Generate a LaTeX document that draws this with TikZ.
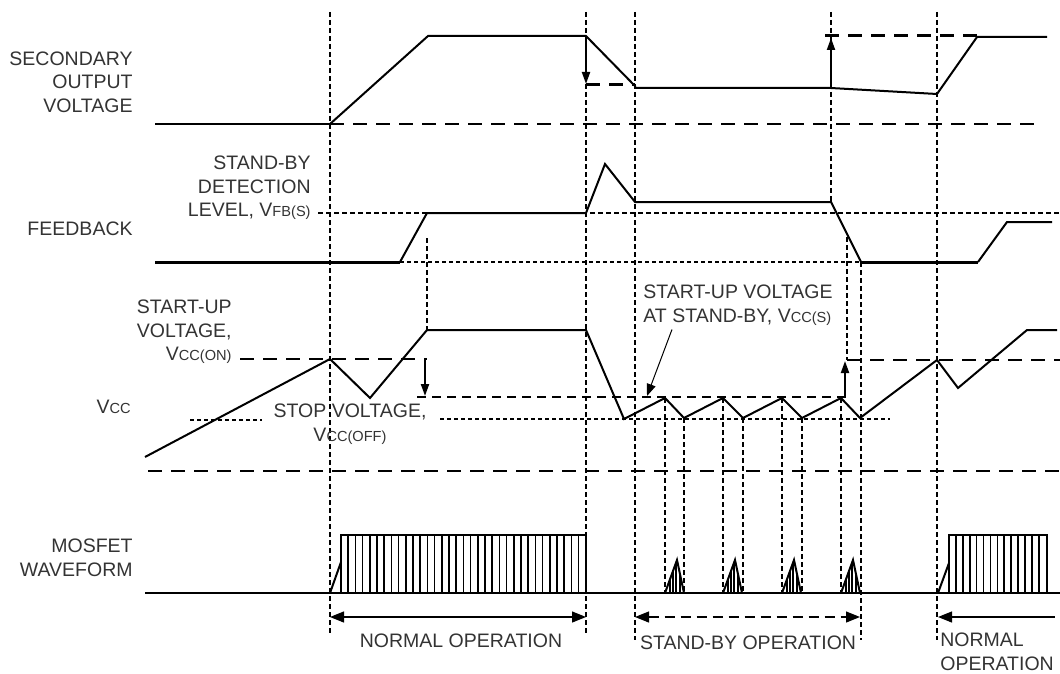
\documentclass[tikz,border=0pt]{standalone}
\usepackage{fontspec}
\setmainfont{Liberation Sans}
\usetikzlibrary{arrows.meta}
\newcommand\vsub[1]{{\fontsize{7.3}{8}\selectfont #1}}
\begin{document}
\begin{tikzpicture}[
  x=0.5pt, y=-0.5pt,
  wave/.style={line width=1pt, line join=miter},
  base/.style={line width=1.5pt},
  guide/.style={line width=0.55pt, dash pattern=on 2.5pt off 1.5pt},
  longdash/.style={line width=1pt, dash pattern=on 7pt off 4.5pt},
  thickdash/.style={line width=1.5pt, dash pattern=on 7pt off 4.5pt},
  middash/.style={line width=0.9pt, dash pattern=on 4.5pt off 3pt},
  shortdash/.style={line width=0.8pt, dash pattern=on 2pt off 1.5pt},
  jump/.style={line width=1pt, -{Triangle[length=6pt,width=4pt]}},
  pointer/.style={line width=0.5pt, -{Triangle[length=6pt,width=4.5pt]}},
  opspan/.style={line width=0.6pt, {Triangle[length=7pt,width=5.5pt]}-{Triangle[length=7pt,width=5.5pt]}},
  hatch/.style={line width=0.8pt},
  txt/.style={font=\fontsize{9.75}{11.75}\selectfont, inner sep=0pt, text=black!80}
]
\useasboundingbox (0,0) rectangle (1060,674);

\draw[guide] (330,12) -- (330,635);
\draw[guide] (427,238) -- (427,330);
\draw[guide] (586,12) -- (586,635);
\draw[guide] (635,12) -- (635,640);
\draw[guide] (831,12) -- (831,203);
\draw[guide] (847,237) -- (847,360);
\draw[guide] (861,262) -- (861,640);
\draw[guide] (937,12) -- (937,640);
\foreach \x/\y in {665/398,684/418,723/398,743/418,782/398,802/418,841/398}
  \draw[guide] (\x,\y) -- (\x,593);

\node[txt, align=right, anchor=east] (sec) at (133,82) {SECONDARY\\OUTPUT\\VOLTAGE};
\draw[line width=0.6pt] (155,124) -- (330,124);
\draw[longdash] (330,124) -- (1040,124);
\draw[wave] (330,124) -- (428,36) -- (586,36) -- (635,86) -- (635,88) -- (831,88)
  -- (937,94) -- (977,37) -- (1047,37);
\draw[jump] (586,36) -- (586,84);
\draw[thickdash] (586,85) -- (635,85);
\draw[jump] (831,88) -- (831,38);
\draw[thickdash] (825,36) -- (980,36);

\node[txt, align=right, anchor=east] (sbl) at (311,188) {STAND-BY\\DETECTION\\LEVEL, V\vsub{FB(S)}};
\node[txt, anchor=east] (fb) at (133,229) {FEEDBACK};
\draw[guide] (318,213) -- (1060,213);
\draw[shortdash] (400,262) -- (861,262);
\draw[wave] (400,262) -- (427,213) -- (586,213) -- (605,164) -- (635,202) -- (831,202)
  -- (861,262);
\draw[wave] (978,262) -- (1007,222) -- (1052,222);
\draw[base] (155,262) -- (400,262);
\draw[base] (861,262) -- (978,262);

\node[txt, align=right, anchor=east] (sul) at (232,332) {START-UP\\VOLTAGE,\\V\vsub{CC(ON)}};
\node[txt, anchor=east] (vcc) at (131,407) {V\vsub{CC}};
\node[txt, align=center] (stop) at (350,424) {STOP VOLTAGE,\\V\vsub{CC(OFF)}};
\node[txt, align=left, anchor=west] (sus) at (643,305) {START-UP VOLTAGE\\AT STAND-BY, V\vsub{CC(S)}};
\draw[longdash] (240,359) -- (427,359);
\draw[longdash] (847,360) -- (1060,360);
\draw[middash] (417,397) -- (845,397);
\draw[shortdash] (190,420) -- (262,420);
\draw[shortdash] (440,419) -- (890,419);
\draw[longdash] (148,471) -- (1060,471);
\draw[wave] (145,457) -- (330,359) -- (370,398) -- (427,330) -- (586,330) -- (624,419)
  -- (665,398) -- (684,418) -- (723,398) -- (743,418) -- (782,398) -- (802,418)
  -- (841,398) -- (860,418) -- (937,360) -- (958,388) -- (1027,330) -- (1057,330);
\draw[jump] (425,359) -- (425,396);
\draw[jump] (845,398) -- (845,361);
\coordinate (ssTip) at (647,396);
\draw[pointer] ([xshift=14.5pt,yshift=-2pt]sus.south west) -- (ssTip);

\node[txt, align=right, anchor=east] (mos) at (133,558) {MOSFET\\WAVEFORM};
\draw[wave] (145,593) -- (1060,593);
\draw[wave] (330,593) -- (341,562);
\draw[wave] (341,593) rectangle (586,535);
\foreach \i in {1,...,33}
  \draw[hatch] ({341+7.2*\i},535) -- ({341+7.2*\i},593);
\draw[wave] (938,593) -- (949,563);
\draw[wave] (949,593) rectangle (1047,535);
\foreach \i in {1,...,13}
  \draw[hatch] ({949+6.9*\i},535) -- ({949+6.9*\i},593);
\foreach \s in {665,723,782,841} {
  \draw[wave] (\s,593) -- ++(12,-33) -- ++(7,33);
  \draw[hatch] (\s,593) ++(5,0) -- ++(0,-14);
  \draw[hatch] (\s,593) ++(8,0) -- ++(0,-22);
  \draw[hatch] (\s,593) ++(11,0) -- ++(0,-30);
  \draw[hatch] (\s,593) ++(15,0) -- ++(0,-19);
}

\draw[opspan] (330,617) -- (586,617);
\draw[opspan, dash pattern=on 5pt off 3pt] (635,617) -- (860,617);
\draw[line width=0.6pt, {Triangle[length=7pt,width=5.5pt]}-] (938,617) -- (1055,617);
\node[txt] (nop) at (461,641) {NORMAL OPERATION};
\node[txt] (sop) at (748,643) {STAND-BY OPERATION};
\node[txt, align=left, anchor=west] (nopb) at (940,652) {NORMAL\\OPERATION};
\end{tikzpicture}
\end{document}
